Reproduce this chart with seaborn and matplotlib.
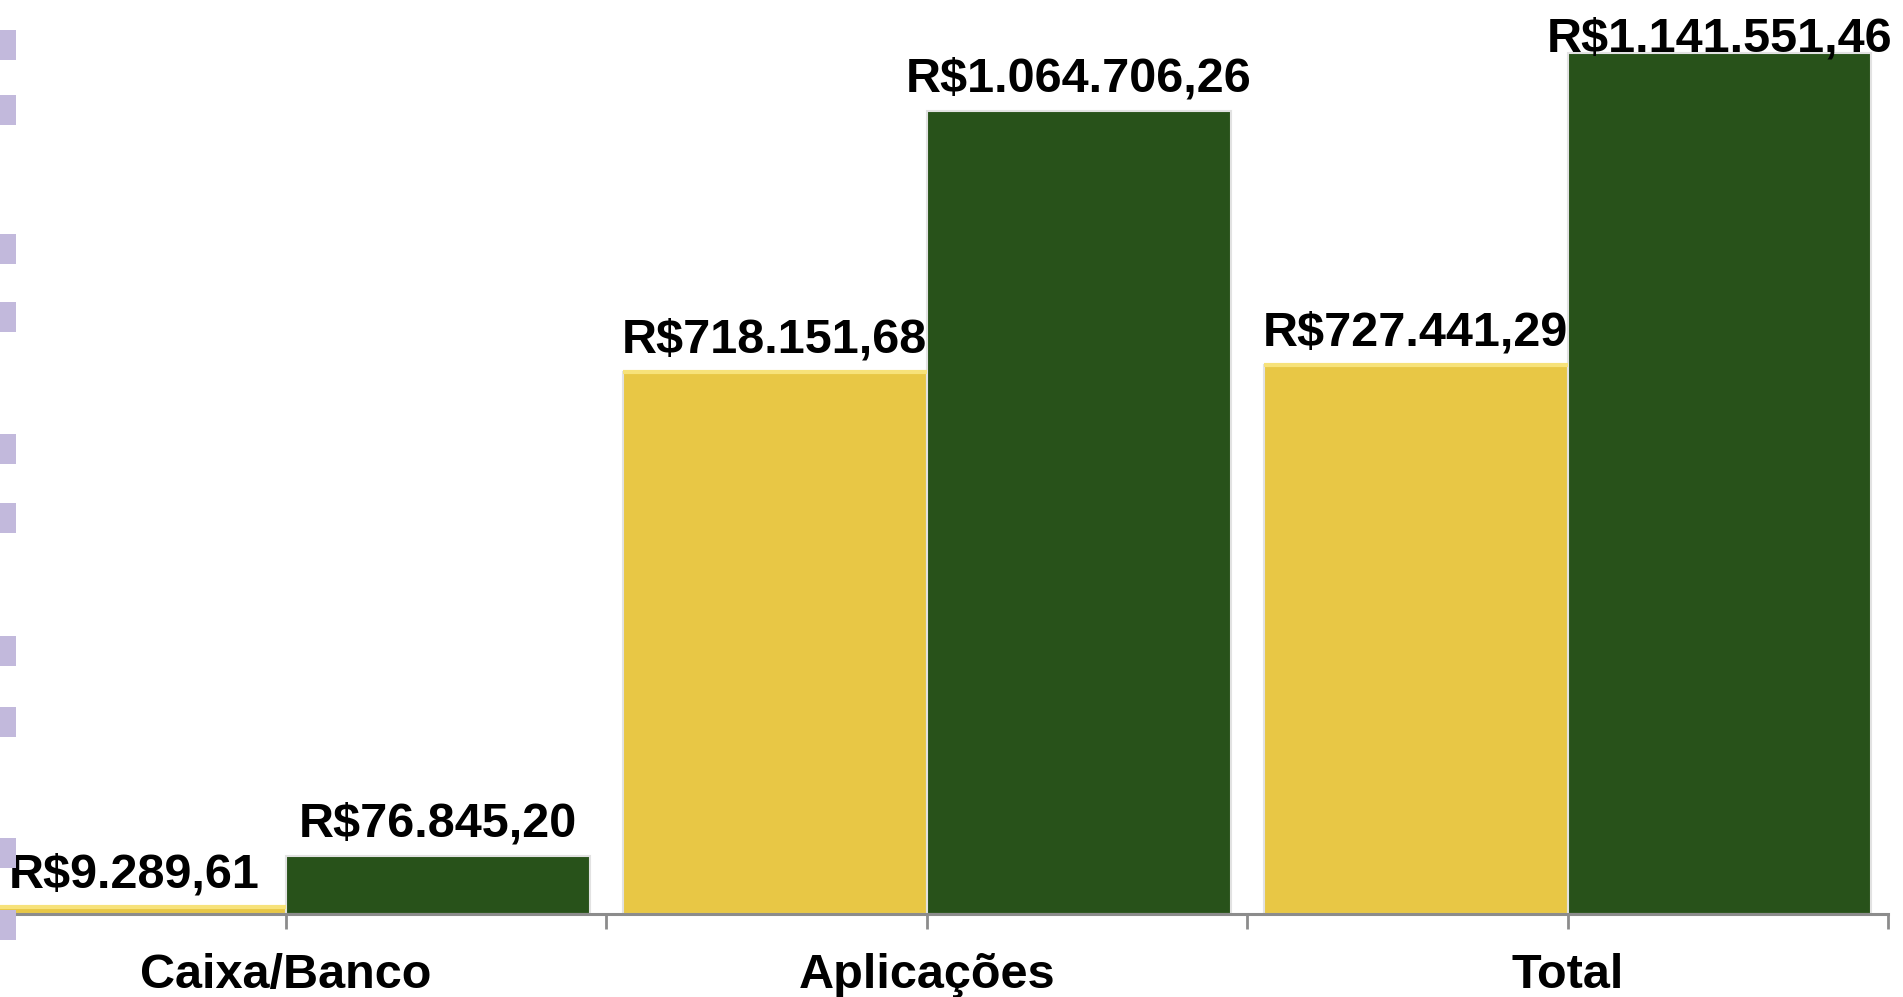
import matplotlib
matplotlib.use("Agg")
import matplotlib.pyplot as plt
import matplotlib.patches as mpatches
import seaborn as sns
import pandas as pd
import numpy as np

# ---- data ----
categorias = ["Caixa/Banco", "Aplicações", "Total"]
serie_1 = [9289.61, 718151.68, 727441.29]      # amarelo
serie_2 = [76845.20, 1064706.26, 1141551.46]   # verde
series = ["Série 1", "Série 2"]

YELLOW = "#E8C745"
GREEN = "#28521A"
GRAY = "#8C8C8C"

def brl(v):
    s = f"{v:,.2f}"
    s = s.replace(",", "X").replace(".", ",").replace("X", ".")
    return "R$" + s

df = pd.DataFrame({
    "categoria": categorias * 2,
    "valor": serie_1 + serie_2,
    "serie": [series[0]] * 3 + [series[1]] * 3,
})

sns.set_theme(style="white")
plt.rcParams["font.family"] = ["Liberation Sans", "DejaVu Sans"]

W, H = 1903, 997
fig = plt.figure(figsize=(W / 100, H / 100), dpi=100)
fig.patch.set_facecolor("white")

# decorative slide marks on the left edge (background ornament)
deco_tops = [30, 95, 234, 302, 434, 503, 636, 707, 838, 910]
for t in deco_tops:
    fig.patches.append(mpatches.Rectangle((0, 1 - (t + 30) / H), 16 / W, 30 / H,
                                          transform=fig.transFigure,
                                          facecolor="#C2B9DC", edgecolor="none",
                                          zorder=0))

left_px, right_px = -34.5, 1888
axis_y = 914
ax = fig.add_axes([left_px / W, (H - axis_y) / H, (right_px - left_px) / W, axis_y / H])
ax.set_facecolor("none")

sns.barplot(data=df, x="categoria", y="valor", hue="serie",
            palette=[YELLOW, GREEN], width=0.948, gap=0, ax=ax,
            legend=False, edgecolor="#E2E2E2", linewidth=1.5, saturation=1)

ax.set_xlim(-0.5, 2.5)
ax.set_ylim(0, 1.2118e6)
ax.set_xlabel("")
ax.set_ylabel("")
ax.set_yticks([])
for s in ["left", "top", "right"]:
    ax.spines[s].set_visible(False)
ax.spines["bottom"].set_color(GRAY)
ax.spines["bottom"].set_linewidth(2.2)
ax.spines["bottom"].set_zorder(5)

ax.set_xticks(range(len(categorias)))
ax.set_xticklabels(categorias, fontsize=35, fontweight="bold", color="black")
ax.set_xticks([-0.5, 0.5, 1.5, 2.5], minor=True)
ax.tick_params(axis="x", which="both", direction="out", length=11, width=2,
               color=GRAY, pad=17, bottom=True)
ax.tick_params(axis="x", which="minor", labelbottom=False)

# subtle top highlight on yellow bars
for p in ax.patches[:3]:
    x0, w, h = p.get_x(), p.get_width(), p.get_height()
    ax.plot([x0, x0 + w], [h, h], color="#F7E27A", lw=3, zorder=p.get_zorder() + 0.1,
            solid_capstyle="butt")

# value labels
fig.canvas.draw()
ax_top_disp = ax.transAxes.transform((0, 1))[1]
for p in ax.patches[:6]:
    h = p.get_height()
    xc = p.get_x() + p.get_width() / 2
    top_disp = ax.transData.transform((xc, h))[1]
    off = 14
    if top_disp + off * 100 / 72 + 50 > ax_top_disp:
        off = 1
    ax.annotate(brl(h), xy=(xc, h), xytext=(0, off), textcoords="offset points",
                ha="center", va="baseline", fontsize=35, fontweight="bold",
                color="black", annotation_clip=False, zorder=10)

fig.savefig("out.png", dpi=100, facecolor="white")
